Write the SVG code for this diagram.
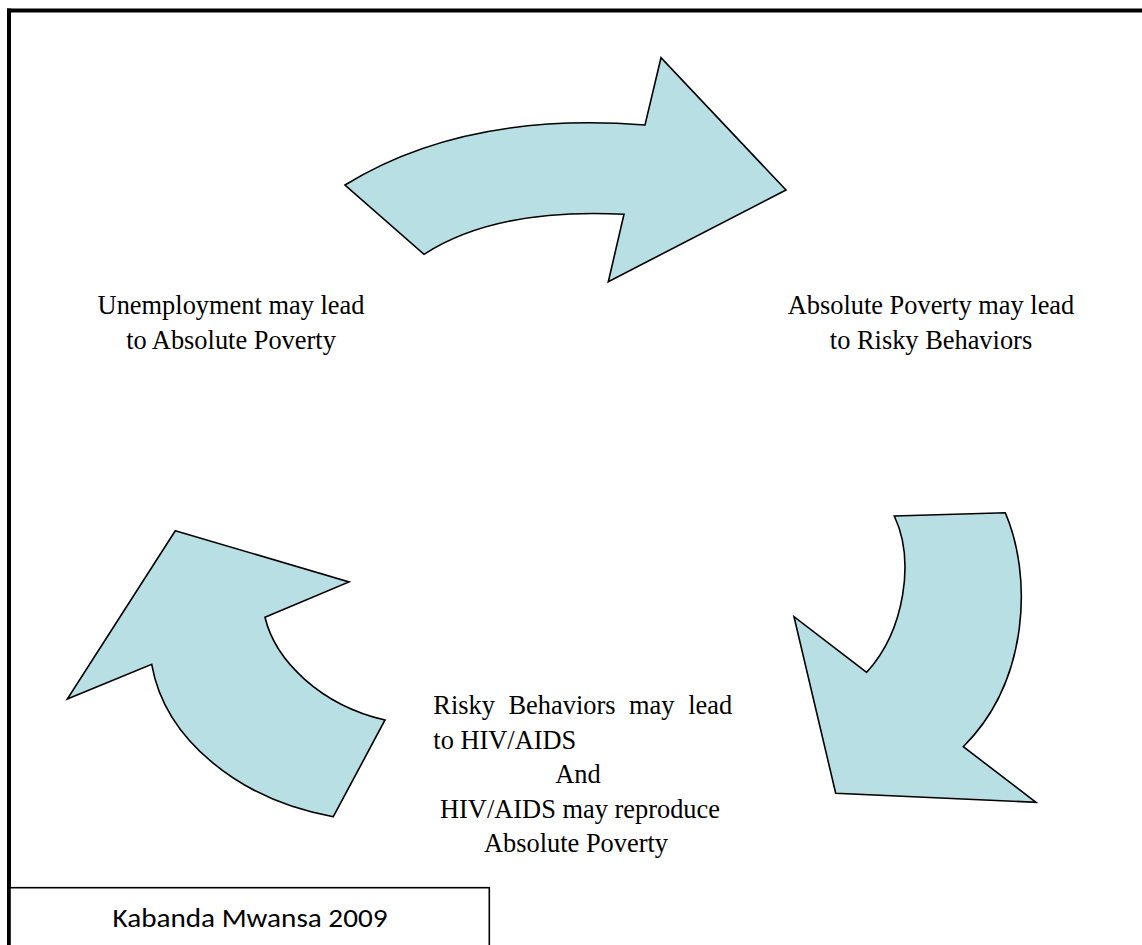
<svg xmlns="http://www.w3.org/2000/svg" width="1142" height="945" viewBox="0 0 1142 945">
  <style>
    .arrow { fill: #B8DFE3; stroke: #000; stroke-width: 1.6; stroke-linejoin: miter; }
    .label { font-family: "Liberation Serif", "Times New Roman", serif; font-size: 26.4px; fill: #000; }
    .mid { text-anchor: middle; }
    .credit { font-family: Carlito, Lato, "Liberation Sans", sans-serif; font-size: 26px; fill: #000; text-anchor: middle; }
  </style>
  <rect x="0" y="0" width="1142" height="945" fill="#fff"/>

  <g id="frame" stroke="#000" stroke-width="4" fill="none">
    <line x1="7" y1="10.5" x2="1142" y2="10.5"/>
    <line x1="9" y1="8.5" x2="9" y2="945"/>
  </g>

  <g id="connectors">
    <path id="arrow-top" class="arrow" d="M345,185 Q465,111 645,125 L661,57.7 L786,190 L608.3,281.7 L624,214.3 Q496,207.7 424,254.3 Z"/>
    <path id="arrow-right" class="arrow" d="M894.3,516 L1005.3,512.7 C1032,575 1030,680 963.3,746.7 L1036,802.3 L835.7,793.3 L794,616.7 L866.7,672.3 C905,630 915,560 894.3,516 Z"/>
    <path id="arrow-left" class="arrow" d="M175.3,530.7 L349,582 L265,617.3 C275,660 320,705 385,720 L333.3,816.7 C240,800 165,740 151.7,664.3 L67.3,699 Z"/>
  </g>

  <g id="node-unemployment">
    <text class="label mid" x="231" y="314">Unemployment may lead</text>
    <text class="label mid" x="231" y="349">to Absolute Poverty</text>
  </g>

  <g id="node-poverty">
    <text class="label mid" x="931" y="314">Absolute Poverty may lead</text>
    <text class="label mid" x="931" y="349">to Risky Behaviors</text>
  </g>

  <g id="node-risky">
    <text class="label" x="433.3" y="714" word-spacing="7">Risky Behaviors may lead</text>
    <text class="label" x="433.3" y="748.5">to HIV/AIDS</text>
    <text class="label mid" x="578" y="783">And</text>
    <text class="label mid" x="580" y="817.5">HIV/AIDS may reproduce</text>
    <text class="label mid" x="576" y="852">Absolute Poverty</text>
  </g>

  <g id="node-credit">
    <rect x="10" y="887.7" width="479.3" height="80" fill="#fff" stroke="#000" stroke-width="1.6"/>
    <text class="credit" x="250" y="927" textLength="275" lengthAdjust="spacingAndGlyphs">Kabanda Mwansa 2009</text>
  </g>
</svg>
